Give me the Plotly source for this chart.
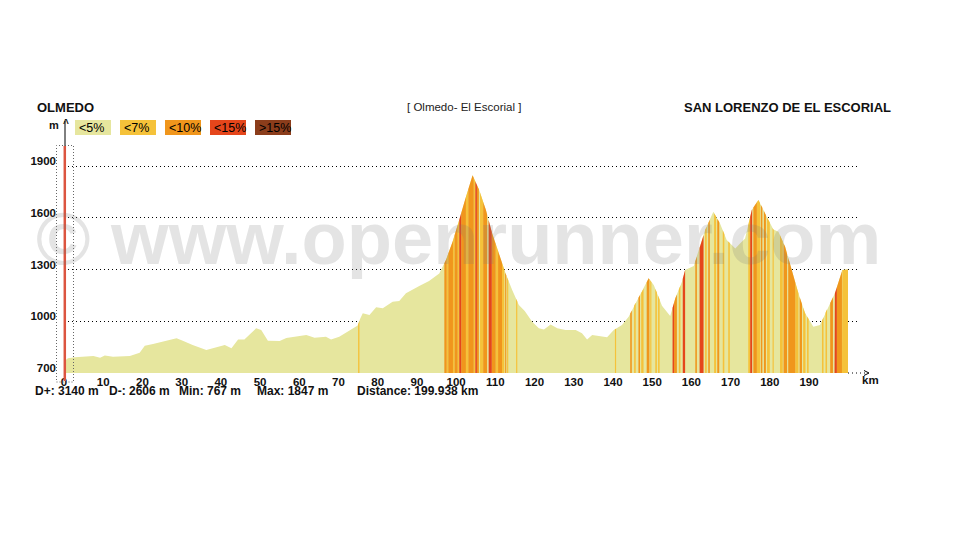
import numpy as np
import plotly.graph_objects as go

# ---------------- data ----------------
km = [0.0, 1.0, 2.8, 5.0, 7.5, 9.2, 10.4, 12.5, 14.5, 16.8, 19.3, 20.6, 22.7, 26.0, 28.7,
      30.3, 32.8, 36.3, 38.0, 41.0, 42.7, 44.4, 46.0, 49.0, 50.3, 52.0, 55.0, 56.7, 61.8,
      63.9, 66.8, 68.1, 70.2, 72.8, 74.9, 75.5, 76.2, 77.9, 79.6, 81.3, 83.8, 85.5, 87.2,
      90.6, 93.1, 95.7, 97.4, 99.1, 100.8, 102.5, 104.2, 105.9, 107.6, 109.2, 110.9, 112.6,
      114.3, 116.0, 117.5, 119.4, 121.1, 122.4, 124.1, 125.8, 127.9, 130.5, 132.1, 133.4,
      134.7, 136.8, 138.5, 140.2, 142.3, 144.0, 145.7, 147.4, 149.1, 150.4, 151.5, 152.5,
      154.6, 155.9, 157.6, 158.4, 160.6, 161.8, 163.5, 165.6, 167.3, 169.0, 171.2, 172.4,
      173.7, 175.4, 177.1, 178.8, 180.9, 182.2, 183.9, 185.6, 187.3, 189.0, 191.1, 192.8,
      194.5, 196.6, 198.5, 199.938]
elev = [767, 785, 791, 795, 799, 789, 802, 795, 797, 799, 818, 858, 868, 886, 901,
        887, 862, 833, 845, 862, 843, 895, 895, 959, 949, 887, 886, 903, 920,
        905, 911, 895, 910, 945, 975, 1013, 1046, 1036, 1081, 1075, 1114, 1118, 1162,
        1205, 1234, 1278, 1355, 1462, 1588, 1723, 1847, 1761, 1645, 1510, 1394, 1278,
        1181, 1095, 1060, 998, 959, 953, 982, 959, 949, 949, 930, 895,
        920, 915, 907, 949, 978, 1027, 1104, 1172, 1250, 1210, 1150, 1090,
        1031, 1133, 1230, 1297, 1321, 1404, 1529, 1635, 1568, 1472, 1423, 1452,
        1481, 1646, 1704, 1626, 1533, 1519, 1432, 1297, 1162, 1046, 969, 978,
        1065, 1162, 1297, 1300]

# gradient stripes: start km, end km, class index (1 = <7%, 2 = <10%, 3 = <15%, 4 = >15%)
seg_start = [75.0, 97.0, 97.6, 98.0, 99.2, 99.6, 100.4, 100.8, 101.3, 102.5, 103.1, 104.5,
             104.9, 105.3, 106.1, 106.9, 108.3, 109.1, 110.1, 110.7, 111.7, 112.5, 113.0,
             115.3, 140.5, 144.4, 145.4, 146.5, 147.2, 148.6, 149.5, 150.8, 151.5,
             155.2, 155.6, 156.8, 157.8, 161.0, 162.1, 163.5, 164.3, 165.8, 166.6, 168.0,
             169.4, 174.5, 175.0, 175.8, 176.7, 177.7, 178.5, 179.3, 180.7, 182.6, 183.5,
             184.7, 186.5, 187.6, 188.5, 189.5, 193.3, 194.2, 195.4, 196.5, 197.1, 198.4]
seg_end = [75.35, 97.6, 98.0, 99.2, 99.6, 100.4, 100.8, 101.3, 102.5, 103.1, 104.5, 104.9,
           105.3, 105.8, 106.9, 107.9, 109.1, 110.1, 110.7, 111.7, 112.3, 112.8, 113.3,
           115.6, 140.8, 144.8, 145.8, 146.9, 147.8, 149.3, 149.8, 151.2, 151.9,
           155.6, 156.3, 157.2, 158.4, 161.4, 163.1, 163.9, 164.7, 166.3, 167.1, 168.4,
           169.8, 175.0, 175.5, 176.7, 177.5, 178.1, 179.0, 180.0, 181.0, 183.3, 184.4,
           186.5, 187.3, 188.2, 189.1, 189.9, 193.7, 194.6, 196.1, 197.1, 198.4, 199.938]
seg_class = [1, 2, 1, 2, 1, 2, 1, 3, 2, 1, 2, 1,
             3, 2, 1, 2, 3, 2, 1, 2, 1, 2, 1,
             1, 1, 2, 1, 2, 1, 2, 1, 1, 1,
             3, 2, 1, 3, 2, 3, 1, 2, 1, 2, 1,
             1, 1, 3, 2, 1, 2, 2, 1, 1, 1, 2,
             2, 1, 2, 1, 1, 1, 1, 2, 3, 2, 1]

grad_labels = ["<5%", "<7%", "<10%", "<15%", ">15%"]
grad_colors = ["#e6e69e", "#f5c23a", "#f0961c", "#e5461b", "#8b3d1b"]

ytick_vals = [700, 1000, 1300, 1600, 1900]
xtick_vals = list(range(0, 200, 10))

start_name = "OLMEDO"
end_name = "SAN LORENZO DE EL ESCORIAL"
route_name = "[ Olmedo- El Escorial ]"
stats = [("D+:", "3140 m"), ("D-:", "2606 m"), ("Min:", "767 m"), ("Max:", "1847 m"),
         ("Distance:", "199.938 km")]

# ---------------- layout geometry ----------------
# page body has an 8px offset, so positions below are given in screen pixels
OFF = 8
W, H = 968, 540
PL, PR, PT, PB = 64, 860, 146, 373          # plot area on screen
ML, MR = PL - OFF, W - (PR - OFF)
MT, MB = PT - OFF, H - (PB - OFF)
PW, PH = PR - PL, PB - PT
YMIN, YMAX = 700, 2017
XMAX = 203


def px(x):
    return (x - PL) / PW


def py(y):
    return (PB - y) / PH


FONT = "Liberation Sans, Arial, Helvetica, sans-serif"

fig = go.Figure()

# base profile
fig.add_trace(go.Scatter(x=km, y=elev, mode="lines", fill="tozeroy",
                         fillcolor=grad_colors[0], line=dict(width=0, color=grad_colors[0]),
                         hoverinfo="skip", showlegend=False))

# gradient stripes
km_arr = np.array(km, dtype=float)
el_arr = np.array(elev, dtype=float)
for c in range(1, 5):
    xs, ys = [], []
    for s, e, cl in zip(seg_start, seg_end, seg_class):
        if cl != c:
            continue
        pts = [s] + [k for k in km if s < k < e] + [e]
        tops = np.interp(pts, km_arr, el_arr)
        xs += [s] + pts + [e, s, None]
        ys += [YMIN - 50] + list(tops) + [YMIN - 50, YMIN - 50, None]
    if xs:
        fig.add_trace(go.Scatter(x=xs, y=ys, mode="lines", fill="toself",
                                 fillcolor=grad_colors[c], line=dict(width=0, color=grad_colors[c]),
                                 hoverinfo="skip", showlegend=False))

annotations = []
shapes = []

# watermark
annotations.append(dict(text="© www.openrunner.com", xref="paper", yref="paper",
                        x=px(458), y=py(238), xanchor="center", yanchor="middle",
                        showarrow=False,
                        font=dict(family=FONT, size=74, color="rgba(120,120,120,0.2)", weight="bold")))

# headers
annotations.append(dict(text="<b>%s</b>" % start_name, xref="paper", yref="paper",
                        x=px(35), y=py(107), xanchor="left", yanchor="middle", showarrow=False,
                        font=dict(family=FONT, size=13, color="#111")))
annotations.append(dict(text=route_name, xref="paper", yref="paper",
                        x=px(464), y=py(107), xanchor="center", yanchor="middle", showarrow=False,
                        font=dict(family=FONT, size=11.5, color="#222")))
annotations.append(dict(text="<b>%s</b>" % end_name, xref="paper", yref="paper",
                        x=px(893), y=py(107), xanchor="right", yanchor="middle", showarrow=False,
                        font=dict(family=FONT, size=13, color="#111")))

# legend boxes
box_x = [75, 120, 165, 210, 255]
for lab, col, bx in zip(grad_labels, grad_colors, box_x):
    shapes.append(dict(type="rect", xref="paper", yref="paper",
                       x0=px(bx), x1=px(bx + 36), y0=py(135), y1=py(120),
                       fillcolor=col, line=dict(width=0)))
    annotations.append(dict(text=lab.replace("<", "&lt;").replace(">", "&gt;"),
                            xref="paper", yref="paper", x=px(bx + 2), y=py(128),
                            xanchor="left", yanchor="middle", showarrow=False,
                            font=dict(family=FONT, size=12.5, color="#000")))

# y axis unit and arrow
annotations.append(dict(text="<b>m</b>", xref="paper", yref="paper", x=px(61), y=py(125),
                        xanchor="right", yanchor="middle", showarrow=False,
                        font=dict(family=FONT, size=11, color="#111")))
annotations.append(dict(text="<b>^</b>", xref="paper", yref="paper", x=px(65.5), y=py(124),
                        xanchor="center", yanchor="middle", showarrow=False,
                        font=dict(family=FONT, size=10, color="#111")))
shapes.append(dict(type="line", xref="paper", yref="paper", x0=px(65), x1=px(65),
                   y0=py(121), y1=py(146), line=dict(color="#000", width=1)))

# cursor box and red line
shapes.append(dict(type="rect", xref="paper", yref="paper", x0=px(56.5), x1=px(73.5),
                   y0=py(382), y1=py(145.5), line=dict(color="#666", width=1, dash="1px,2px"),
                   fillcolor="rgba(0,0,0,0)"))
shapes.append(dict(type="line", xref="paper", yref="paper", x0=px(64.8), x1=px(64.8),
                   y0=py(381), y1=py(146), line=dict(color="#dc5540", width=2.5)))

# x axis extension with arrow
shapes.append(dict(type="line", xref="paper", yref="paper", x0=px(848), x1=px(868),
                   y0=py(373), y1=py(373), line=dict(color="#000", width=1, dash="1px,3px")))
shapes.append(dict(type="path", xref="paper", yref="paper",
                   path="M %f %f L %f %f L %f %f" % (px(864), py(370.5), px(869), py(373),
                                                     px(864), py(375.5)),
                   line=dict(color="#000", width=1)))
annotations.append(dict(text="<b>km</b>", xref="paper", yref="paper", x=px(870), y=py(380),
                        xanchor="center", yanchor="middle", showarrow=False,
                        font=dict(family=FONT, size=11.5, color="#111")))

# stats line
stat_x = [33, 107, 177, 255, 355]
for (k, v), sx in zip(stats, stat_x):
    annotations.append(dict(text="<b>%s %s</b>" % (k, v), xref="paper", yref="paper",
                            x=px(sx), y=py(391), xanchor="left", yanchor="middle",
                            showarrow=False, font=dict(family=FONT, size=12, color="#111")))

fig.update_layout(
    width=W, height=H,
    margin=dict(l=ML, r=MR, t=MT, b=MB, pad=0),
    paper_bgcolor="white", plot_bgcolor="white",
    showlegend=False,
    annotations=annotations,
    shapes=shapes,
    xaxis=dict(range=[0, XMAX], tickvals=xtick_vals, ticktext=["<b>%d</b>" % v for v in xtick_vals],
               showgrid=False, zeroline=False, showline=False, ticks="",
               tickfont=dict(family=FONT, size=11.5, color="#111"), ticklabelstandoff=0,
               fixedrange=True),
    yaxis=dict(range=[YMIN, YMAX], tickvals=ytick_vals, ticktext=["<b>%d</b>" % v for v in ytick_vals],
               showgrid=True, gridcolor="#000", gridwidth=1, griddash="1px,3px",
               zeroline=False, showline=False, ticks="",
               tickfont=dict(family=FONT, size=11.5, color="#111"),
               ticklabelstandoff=7, ticklabelshift=-5, fixedrange=True),
)

fig.write_html("out.html")
